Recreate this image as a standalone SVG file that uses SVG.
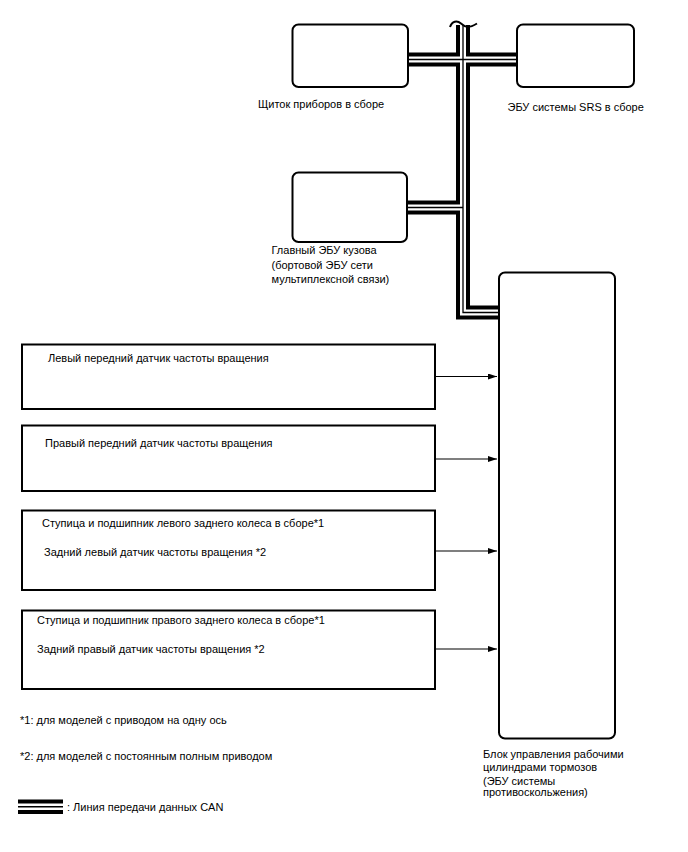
<svg xmlns="http://www.w3.org/2000/svg" width="688" height="852" viewBox="0 0 688 852">
<style>
text{font-family:"Liberation Sans",Arial,sans-serif;font-size:11px;fill:#000}
.ecu{fill:#fff;stroke:#000;stroke-width:2}
.box{fill:#fff;stroke:#000;stroke-width:2}
.canB{fill:none;stroke:#000;stroke-width:14;stroke-linejoin:miter;stroke-linecap:butt}
.canW{fill:none;stroke:#fff;stroke-width:6;stroke-linejoin:miter;stroke-linecap:butt}
.canT{fill:none;stroke:#000;stroke-width:1.3;stroke-linejoin:miter;stroke-linecap:butt}
.arr{fill:none;stroke:#000;stroke-width:1.2;marker-end:url(#ah)}
</style>
<defs>
<marker id="ah" markerWidth="9" markerHeight="6" refX="9" refY="3" orient="auto" markerUnits="userSpaceOnUse">
<path d="M0,0 L9,3 L0,6 Z" fill="#000"/>
</marker>
<path id="bus1" d="M463,25 V312.5 H499"/>
<path id="bus2" d="M408,59.5 H517"/>
<path id="bus3" d="M407,207.5 H463"/>
</defs>
<g id="connectors">
<use href="#bus1" class="canB"/>
<use href="#bus2" class="canB"/>
<use href="#bus3" class="canB"/>
<use href="#bus1" class="canW"/>
<use href="#bus2" class="canW"/>
<use href="#bus3" class="canW"/>
<use href="#bus1" class="canT"/>
<use href="#bus2" class="canT"/>
<use href="#bus3" class="canT"/>
<path d="M450,27 C452,21 457,20 461,23.5 S468,29 477,23.5" fill="none" stroke="#000" stroke-width="2"/>
<line class="arr" x1="435" y1="376.5" x2="497" y2="376.5"/>
<line class="arr" x1="435" y1="459" x2="497" y2="459"/>
<line class="arr" x1="435" y1="551" x2="497" y2="551"/>
<line class="arr" x1="435" y1="649" x2="497" y2="649"/>
</g>
<g id="instrument-cluster">
<rect class="ecu" x="292.5" y="24.5" width="115.5" height="62.5" rx="6"/>
<text x="258" y="108">Щиток приборов в сборе</text>
</g>
<g id="srs-ecu">
<rect class="ecu" x="517" y="24.5" width="117" height="62.5" rx="6"/>
<text x="507.5" y="110.5">ЭБУ системы SRS в сборе</text>
</g>
<g id="body-ecu">
<rect class="ecu" x="292.5" y="172.5" width="114.5" height="69.5" rx="6"/>
<text x="271.5" y="254">Главный ЭБУ кузова</text>
<text x="271.5" y="268.5">(бортовой ЭБУ сети</text>
<text x="271.5" y="282.5">мультиплексной связи)</text>
</g>
<g id="brake-ecu">
<rect class="ecu" x="499" y="272.5" width="116" height="466" rx="6"/>
<text x="483" y="757.5">Блок управления рабочими</text>
<text x="483" y="771">цилиндрами тормозов</text>
<text x="483" y="784.5">(ЭБУ системы</text>
<text x="483" y="796">противоскольжения)</text>
</g>
<g id="fl-sensor">
<rect class="box" x="22" y="344.5" width="413" height="64.5"/>
<text x="48" y="361.5">Левый передний датчик частоты вращения</text>
</g>
<g id="fr-sensor">
<rect class="box" x="22" y="425.5" width="413" height="65.5"/>
<text x="45" y="447">Правый передний датчик частоты вращения</text>
</g>
<g id="rl-sensor">
<rect class="box" x="22" y="510.5" width="413" height="79.5"/>
<text x="42" y="527">Ступица и подшипник левого заднего колеса в сборе*1</text>
<text x="44" y="555.5">Задний левый датчик частоты вращения *2</text>
</g>
<g id="rr-sensor">
<rect class="box" x="22" y="610.5" width="413" height="78.5"/>
<text x="37" y="624">Ступица и подшипник правого заднего колеса в сборе*1</text>
<text x="37" y="652.5">Задний правый датчик частоты вращения *2</text>
</g>
<g id="notes">
<text x="20" y="724">*1: для моделей с приводом на одну ось</text>
<text x="20" y="760">*2: для моделей с постоянным полным приводом</text>
</g>
<g id="legend">
<rect x="18" y="799.5" width="45" height="4" fill="#000"/>
<rect x="18" y="806" width="45" height="1.5" fill="#000"/>
<rect x="18" y="810" width="45" height="4" fill="#000"/>
<text x="67" y="810.5">: Линия передачи данных CAN</text>
</g>
</svg>
